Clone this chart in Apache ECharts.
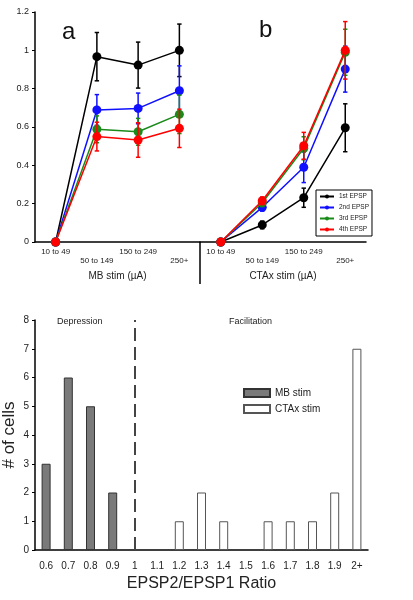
<!DOCTYPE html>
<html><head><meta charset="utf-8">
<script src="https://cdn.jsdelivr.net/npm/echarts@6/dist/echarts.min.js"></script>
<style>html,body{margin:0;padding:0;background:#fff}#c{width:413px;height:600px}</style>
</head><body><div id="c"></div>
<script>
// ---- Data ----
const stimCats = ['10 to 49', '50 to 149', '150 to 249', '250+'];
const seriesNames = ['1st EPSP', '2nd EPSP', '3rd EPSP', '4th EPSP'];
const seriesColors = ['#000000', '#1010ff', '#1a8a1a', '#ff0000'];
// Panel a: MB stim
const mbMean1 = [0, 0.967, 0.923, 1.0];
const mbErr1  = [0, 0.126, 0.12, 0.137];
const mbMean2 = [0, 0.689, 0.697, 0.789];
const mbErr2  = [0, 0.08, 0.08, 0.13];
const mbMean3 = [0, 0.588, 0.575, 0.666];
const mbErr3  = [0, 0.07, 0.07, 0.1];
const mbMean4 = [0, 0.55, 0.532, 0.593];
const mbErr4  = [0, 0.075, 0.09, 0.1];
// Panel b: CTAx stim
const ctMean1 = [0, 0.089, 0.231, 0.596];
const ctErr1  = [0, 0.02, 0.05, 0.125];
const ctMean2 = [0, 0.181, 0.39, 0.902];
const ctErr2  = [0, 0.02, 0.08, 0.12];
const ctMean3 = [0, 0.205, 0.489, 0.99];
const ctErr3  = [0, 0.02, 0.06, 0.12];
const ctMean4 = [0, 0.215, 0.502, 1.0];
const ctErr4  = [0, 0.02, 0.07, 0.15];
// Bottom histogram
const ratioCats = ['0.6','0.7','0.8','0.9','1','1.1','1.2','1.3','1.4','1.5','1.6','1.7','1.8','1.9','2+'];
const mbCounts = [3, 6, 5, 2, null, null, null, null, null, null, null, null, null, null, null];
const ctCounts = [null, null, null, null, null, null, 1, 2, 1, null, 1, 1, 1, 2, 7];
const topTicks = [0, 1.2, 0.2];
const bottomTicks = [0, 8, 1];

const FONT = 'Liberation Sans, Arial, sans-serif';
const chart = echarts.init(document.getElementById('c'), null, {renderer: 'canvas'});

function errData(mean, err) {
  return mean.map((m, i) => [i, m - err[i], m + err[i]]);
}
function errSeries(mean, err, color, xi, z) {
  return {
    type: 'custom', xAxisIndex: xi, yAxisIndex: xi, z: z,
    renderItem: function (params, api) {
      const i = api.value(0);
      const lo = api.coord([i, api.value(1)]);
      const hi = api.coord([i, api.value(2)]);
      const w = 2.2;
      const st = {stroke: color, lineWidth: 1.5};
      return {type: 'group', children: [
        {type: 'line', shape: {x1: lo[0], y1: lo[1], x2: hi[0], y2: hi[1]}, style: st},
        {type: 'line', shape: {x1: hi[0] - w, y1: hi[1], x2: hi[0] + w, y2: hi[1]}, style: st},
        {type: 'line', shape: {x1: lo[0] - w, y1: lo[1], x2: lo[0] + w, y2: lo[1]}, style: st}
      ]};
    },
    data: errData(mean, err), silent: true
  };
}
function lineSeries(name, data, color, xi, z) {
  return {
    name: name, type: 'line', xAxisIndex: xi, yAxisIndex: xi, z: z,
    data: data, symbol: 'circle', symbolSize: 9,
    lineStyle: {color: color, width: 1.5}, itemStyle: {color: color},
    animation: false
  };
}

const mbMeans = [mbMean1, mbMean2, mbMean3, mbMean4];
const mbErrs = [mbErr1, mbErr2, mbErr3, mbErr4];
const ctMeans = [ctMean1, ctMean2, ctMean3, ctMean4];
const ctErrs = [ctErr1, ctErr2, ctErr3, ctErr4];

const series = [];
for (let k = 0; k < 4; k++) {
  series.push(errSeries(mbMeans[k], mbErrs[k], seriesColors[k], 0, 2 + k));
  series.push(lineSeries(seriesNames[k], mbMeans[k], seriesColors[k], 0, 2 + k));
}
for (let k = 0; k < 4; k++) {
  series.push(errSeries(ctMeans[k], ctErrs[k], seriesColors[k], 1, 2 + k));
  series.push(lineSeries(seriesNames[k], ctMeans[k], seriesColors[k], 1, 2 + k));
}
series.push({
  name: 'MB stim', type: 'bar', xAxisIndex: 2, yAxisIndex: 2, data: mbCounts,
  barWidth: 9, barGap: '-100%',
  itemStyle: {color: '#7a7a7a', borderColor: '#333', borderWidth: 1}
});
series.push({
  name: 'CTAx stim', type: 'bar', xAxisIndex: 2, yAxisIndex: 2, data: ctCounts,
  barWidth: 9, barGap: '-100%',
  itemStyle: {color: '#ffffff', borderColor: '#555', borderWidth: 1},
  markLine: {
    silent: true, symbol: 'none', label: {show: false},
    lineStyle: {color: '#444', type: [13, 6], width: 2},
    data: [{xAxis: '1'}]
  }
});

const axisLine = {lineStyle: {color: '#000', width: 1.5}};
const topXLabel = {
  fontSize: 8, color: '#222', fontFamily: FONT, margin: 5, interval: 0, lineHeight: 9,
  formatter: (v, i) => (i % 2 ? '\n' + v : v)
};

chart.setOption({
  animation: false,
  textStyle: {fontFamily: FONT},
  grid: [
    {left: 35, top: 12, width: 165, height: 230, outerBoundsMode: 'none', containLabel: false},
    {left: 200, top: 12, width: 166, height: 230, outerBoundsMode: 'none', containLabel: false},
    {left: 35, top: 320, width: 333, height: 230, outerBoundsMode: 'none', containLabel: false}
  ],
  xAxis: [
    {gridIndex: 0, type: 'category', data: stimCats, boundaryGap: true,
     axisLine: axisLine, axisTick: {length: 4, lineStyle: {color: '#000'}},
     axisLabel: topXLabel, name: 'MB stim (µA)', nameLocation: 'middle', nameGap: 29,
     nameMoveOverlap: false,
     nameTextStyle: {fontSize: 10, color: '#222', fontFamily: FONT}},
    {gridIndex: 1, type: 'category', data: stimCats, boundaryGap: true,
     axisLine: axisLine, axisTick: {length: 4, lineStyle: {color: '#000'}},
     axisLabel: topXLabel, name: 'CTAx stim (µA)', nameLocation: 'middle', nameGap: 29,
     nameMoveOverlap: false,
     nameTextStyle: {fontSize: 10, color: '#222', fontFamily: FONT}},
    {gridIndex: 2, type: 'category', data: ratioCats, boundaryGap: true,
     axisLine: axisLine, axisTick: {length: 4, lineStyle: {color: '#000'}},
     axisLabel: {fontSize: 10, color: '#222', fontFamily: FONT, margin: 11, interval: 0},
     name: 'EPSP2/EPSP1 Ratio', nameLocation: 'middle', nameGap: 26, nameMoveOverlap: false,
     nameTextStyle: {fontSize: 16, color: '#222', fontFamily: FONT}}
  ],
  yAxis: [
    {gridIndex: 0, type: 'value', min: topTicks[0], max: topTicks[1], interval: topTicks[2],
     axisLine: {show: true, lineStyle: {color: '#000', width: 1.5}},
     axisTick: {show: true, length: 3, lineStyle: {color: '#000'}},
     splitLine: {show: false},
     axisLabel: {fontSize: 9, color: '#222', fontFamily: FONT, margin: 6}},
    {gridIndex: 1, type: 'value', min: topTicks[0], max: topTicks[1], interval: topTicks[2],
     show: false, splitLine: {show: false}},
    {gridIndex: 2, type: 'value', min: bottomTicks[0], max: bottomTicks[1], interval: bottomTicks[2],
     axisLine: {show: true, lineStyle: {color: '#000', width: 1.5}},
     axisTick: {show: true, length: 3, lineStyle: {color: '#000'}},
     splitLine: {show: false},
     axisLabel: {fontSize: 10, color: '#222', fontFamily: FONT, margin: 6},
     name: '# of cells', nameLocation: 'middle', nameGap: 17, nameMoveOverlap: false,
     nameTextStyle: {fontSize: 17, color: '#222', fontFamily: FONT}}
  ],
  legend: [
    {data: seriesNames, orient: 'vertical', left: 316, top: 190,
     itemWidth: 14, itemHeight: 5, itemGap: 4, padding: [3, 3, 3, 3],
     borderColor: '#000', borderWidth: 1, backgroundColor: '#fff',
     textStyle: {fontSize: 6.5, color: '#222', fontFamily: FONT}, selectedMode: false},
    {data: ['MB stim', 'CTAx stim'], orient: 'vertical', left: 238, top: 383,
     itemWidth: 26, itemHeight: 8, itemGap: 6, icon: 'rect',
     textStyle: {fontSize: 10, color: '#222', fontFamily: FONT}, selectedMode: false}
  ],
  graphic: [
    {type: 'line', shape: {x1: 200, y1: 242, x2: 200, y2: 284}, style: {stroke: '#000', lineWidth: 1.5}},
    {type: 'text', left: 62, top: 20, style: {text: 'a', fontSize: 24, fill: '#111', fontFamily: FONT}},
    {type: 'text', left: 259, top: 18, style: {text: 'b', fontSize: 24, fill: '#111', fontFamily: FONT}},
    {type: 'text', left: 57, top: 317, style: {text: 'Depression', fontSize: 9, fill: '#222', fontFamily: FONT}},
    {type: 'text', left: 229, top: 317, style: {text: 'Facilitation', fontSize: 9, fill: '#222', fontFamily: FONT}}
  ],
  series: series
});
</script></body></html>
